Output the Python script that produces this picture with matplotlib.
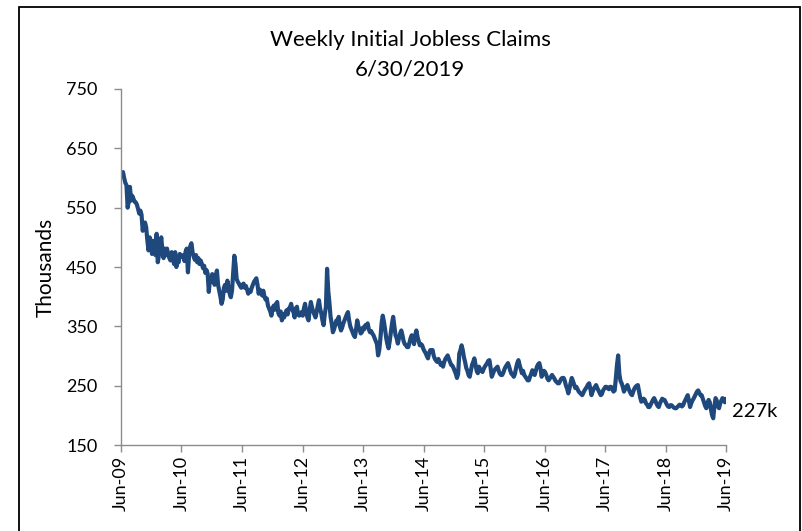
import matplotlib
matplotlib.use("Agg")
import matplotlib.pyplot as plt
import matplotlib.dates as mdates
import matplotlib.patches as mpatches
import pandas as pd

plt.rcParams['font.family'] = ['Lato', 'DejaVu Sans']

title_line1 = "Weekly Initial Jobless Claims"
title_line2 = "6/30/2019"
ylabel = "Thousands"
start_week = "2009-06-06"
end_label = "227k"

claims = [
    605, 610, 600, 592, 588, 550, 560, 585, 562, 570, 565, 560, 559,
    555, 548, 540, 545, 538, 511, 520, 525, 517, 495, 478, 500, 494,
    472, 494, 480, 470, 506, 458, 470, 485, 500, 478, 465, 481, 470,
    481, 470, 465, 461, 475, 468, 455, 475, 450, 460, 458, 472, 467,
    467, 470, 460, 476, 481, 441, 470, 485, 490, 475, 467, 462, 470,
    458, 465, 455, 461, 455, 448, 452, 440, 445, 439, 408, 430, 425,
    438, 430, 420, 435, 444, 420, 410, 400, 388, 395, 415, 420, 410,
    427, 415, 405, 399, 410, 440, 469, 455, 430, 425, 422, 418, 415,
    420, 422, 415, 418, 412, 405, 410, 408, 415, 420, 425, 428, 431,
    420, 405, 412, 408, 402, 410, 400, 395, 397, 385, 380, 375, 368,
    380, 385, 378, 388, 391, 372, 368, 375, 360, 370, 365, 372, 377,
    370, 380, 382, 388, 378, 374, 365, 380, 383, 370, 368, 372, 374,
    368, 380, 388, 375, 365, 360, 378, 391, 382, 375, 370, 365, 374,
    385, 394, 380, 372, 360, 352, 370, 383, 447, 410, 390, 366, 355,
    340, 345, 352, 360, 355, 366, 350, 343, 348, 355, 360, 365, 370,
    374, 360, 350, 345, 340, 335, 332, 345, 360, 350, 345, 338, 340,
    348, 345, 352, 350, 355, 345, 340, 342, 338, 335, 330, 325, 320,
    301, 310, 330, 355, 368, 358, 345, 330, 320, 313, 325, 340, 355,
    366, 350, 335, 330, 321, 330, 338, 343, 335, 325, 320, 318, 315,
    315, 322, 330, 335, 328, 320, 335, 343, 332, 325, 318, 320, 318,
    312, 308, 305, 300, 296, 305, 310, 308, 310, 300, 295, 292, 290,
    295, 290, 285, 288, 282, 290, 295, 298, 301, 295, 290, 285, 284,
    280, 275, 270, 263, 270, 304, 310, 318, 310, 298, 290, 280, 275,
    268, 265, 275, 285, 290, 296, 285, 275, 271, 282, 278, 275, 273,
    278, 282, 285, 288, 292, 293, 280, 265, 270, 275, 278, 280, 282,
    275, 270, 268, 268, 272, 278, 282, 285, 288, 282, 275, 270, 268,
    265, 270, 280, 288, 293, 285, 278, 271, 275, 268, 265, 262, 259,
    259, 265, 270, 276, 272, 268, 275, 282, 286, 288, 280, 265, 270,
    275, 273, 268, 262, 259, 262, 265, 268, 265, 262, 258, 256, 254,
    254, 258, 262, 263, 263, 258, 250, 245, 237, 245, 255, 263, 258,
    252, 246, 248, 244, 240, 238, 236, 234, 238, 242, 245, 248, 252,
    254, 245, 234, 240, 245, 248, 251, 246, 242, 238, 234, 236, 242,
    245, 248, 248, 246, 244, 248, 248, 244, 240, 242, 262, 285, 301,
    270, 258, 254, 248, 240, 244, 248, 251, 245, 240, 236, 234, 240,
    245, 248, 250, 251, 240, 230, 223, 225, 228, 226, 220, 218, 214,
    214, 218, 222, 226, 229, 225, 220, 216, 214, 220, 224, 228, 226,
    226, 222, 218, 215, 214, 217, 217, 215, 213, 212, 212, 214, 216,
    218, 217, 215, 217, 222, 226, 230, 234, 225, 214, 220, 225, 228,
    232, 236, 240, 242, 238, 234, 234, 228, 222, 216, 212, 220, 226,
    222, 210, 200, 195, 215, 229, 225, 215, 212, 220, 225, 229, 226, 222, 227,
]

dates = pd.date_range(start_week, periods=len(claims), freq="7D")

fig = plt.figure(figsize=(8.02, 5.31), dpi=100)
ax = fig.add_axes([121/802, (531-445)/531, (726-121)/802, (445-89)/531])

ax.plot(dates, claims, color="#1F497D", lw=3.0, solid_joinstyle="round")

ax.set_ylim(150, 750)
ax.set_yticks(range(150, 751, 100))
ax.set_xlim(pd.Timestamp("2009-06-01"), pd.Timestamp("2019-06-01"))
ax.xaxis.set_major_locator(mdates.MonthLocator(bymonth=6, bymonthday=1))
ax.xaxis.set_major_formatter(mdates.DateFormatter("%b-%y"))

for s in ["top", "right"]:
    ax.spines[s].set_visible(False)
for s in ["left", "bottom"]:
    ax.spines[s].set_color("#8c8c8c")
    ax.spines[s].set_linewidth(1.0)

ax.tick_params(axis="both", colors="#8c8c8c", labelcolor="black",
               labelsize=13, length=5, width=1.0, direction="out")
ax.tick_params(axis="y", pad=12)
ax.tick_params(axis="x", pad=3)
for lbl in ax.get_xticklabels():
    lbl.set_rotation(90)

ax.set_ylabel(ylabel, fontsize=15)
ax.yaxis.set_label_coords((56 - 121) / (726 - 121), 0.5)

fig.text(410/802, 1 - 40/531, title_line1, ha="center", va="center", fontsize=16)
fig.text(410/802, 1 - 70/531, title_line2, ha="center", va="center", fontsize=16)

ax.annotate(end_label, xy=(dates[-1], claims[-1]), xytext=(4, -9),
            textcoords="offset points", fontsize=14.5, ha="left", va="center")

rect = mpatches.Rectangle((19/802, -0.05), (800-19)/802, 1.05 - 7/531,
                          transform=fig.transFigure, fill=False,
                          edgecolor="black", lw=1.3, clip_on=False)
fig.patches.append(rect)

fig.savefig("out.png", dpi=100)
